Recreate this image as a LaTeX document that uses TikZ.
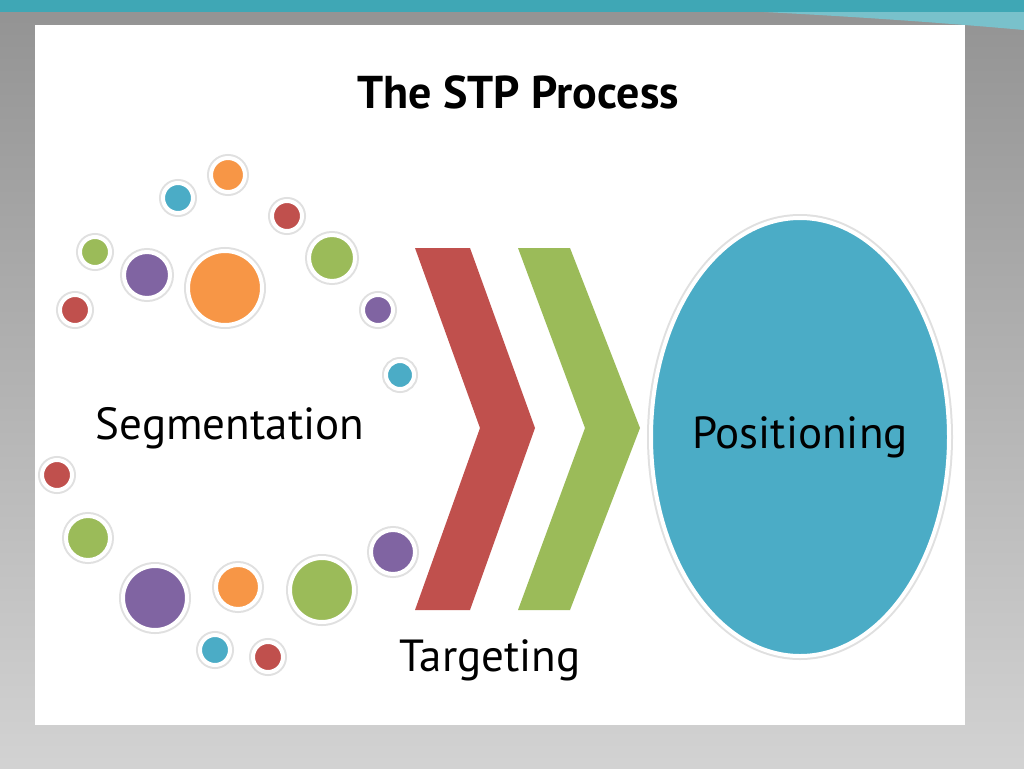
\documentclass[tikz,border=0pt]{standalone}
\usepackage{fontspec}
\setmainfont{PT Sans}
\usetikzlibrary{shapes.geometric}
\definecolor{stpred}{HTML}{C0504D}
\definecolor{stpgreen}{HTML}{9BBB59}
\definecolor{stpblue}{HTML}{4BACC6}
\definecolor{stporange}{HTML}{F79646}
\definecolor{stppurple}{HTML}{8064A2}
\definecolor{stpteal}{HTML}{3FA7B5}
\tikzset{
  dot/.style={circle,draw=white,line width=4pt,inner sep=0pt,fill=#1,
    preaction={draw=black!12,line width=8pt}},
  label/.style={font=\fontsize{45}{45}\selectfont,inner sep=0pt}
}
\begin{document}
\begin{tikzpicture}[x=1pt,y=-1pt]
\useasboundingbox (0,0) rectangle (1024,768);
\shade[top color=gray!85,bottom color=gray!35] (0,0) rectangle (1024,768);
% top swoosh
\fill[stpteal!70] (0,0) -- (1024,0) -- (1024,30) .. controls (800,10) and (600,5) .. (450,0) -- cycle;
\fill[stpteal] (0,0) rectangle (1024,12);
\fill[white] (35,25) rectangle (965,725);
\node[font=\bfseries\fontsize{46}{46}\selectfont] (title) at (518,92) {The STP Process};
% small circles
\foreach \cx/\cy/\r/\col [count=\i] in {228/175/17/stporange,178/198/15/stpblue,287/216/15/stpred,
  95/252/15/stpgreen,147/275/23/stppurple,225/288/37/stporange,332/258/23/stpgreen,
  75/310/15/stpred,378/310/15/stppurple,400/375/14/stpblue,57/475/15/stpred,
  88/538/22/stpgreen,155/598/32/stppurple,238/587/22/stporange,322/590/32/stpgreen,
  393/552/22/stppurple,215/650/15/stpblue,268/657/15/stpred}
  \node[dot=\col,minimum size=2*\r] (c\i) at (\cx,\cy) {};
% chevrons
\fill[stpred] (415,248) -- (470,248) -- (535,428) -- (470,610) -- (415,610) -- (480,428) -- cycle;
\fill[stpgreen] (518,248) -- (570,248) -- (640,428) -- (570,610) -- (518,610) -- (585,428) -- cycle;
\node[ellipse,fill=stpblue,draw=white,line width=4pt,minimum width=298,minimum height=438,
  preaction={draw=black!12,line width=8pt}] (pos) at (800,437) {};
\node[label] at (pos.center) {Positioning};
\node[label] (seg) at (230,428) {Segmentation};
\node[label] (tar) at (490,660) {Targeting};
\end{tikzpicture}
\end{document}
